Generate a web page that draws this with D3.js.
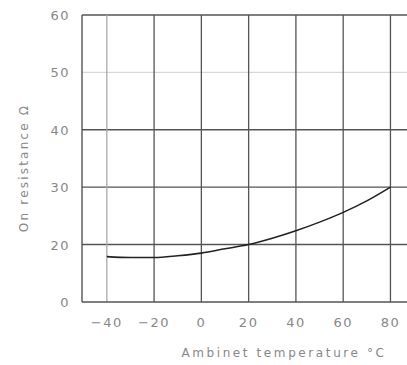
<!DOCTYPE html>
<html>
<head>
<meta charset="utf-8">
<script src="https://cdn.jsdelivr.net/npm/d3@7"></script>
<style>
  body { margin: 0; background: #fff; }
  text { font-family: "DejaVu Sans", sans-serif; fill: #888; }
</style>
</head>
<body>
<script>
// curve
var temps = [-40, -30, -20, -10, 0, 10, 20, 30, 40, 50, 60, 70, 80];
var resist = [15.8, 15.5, 15.5, 16.1, 17.0, 18.5, 20.0, 21.1, 22.4, 23.9, 25.6, 27.6, 30.0];

var xTicks = [-40, -20, 0, 20, 40, 60, 80];
var yTicks = [0, 20, 30, 40, 50, 60];

var width = 407, height = 365;

var svg = d3.select("body")
    .append("svg")
    .attr("width", width)
    .attr("height", height);

//x scale, plot runs off the right edge
var x = d3.scaleLinear()
    .domain([-50.5, 87])
    .range([82, 407]);

//y axis is broken: 0..20 takes one step like 10 does
var y = d3.scaleLinear()
    .domain([0, 20, 60])
    .range([302, 244.5, 15]);

//horizontal grid lines
svg.selectAll(".hgrid")
    .data(yTicks.filter(function(d){ return d > 0; }))
    .enter()
    .append("line")
    .attr("class", "hgrid")
    .attr("x1", x.range()[0])
    .attr("x2", width)
    .attr("y1", function(d){ return y(d); })
    .attr("y2", function(d){ return y(d); })
    .attr("stroke", function(d){ return d == 50 ? "#d8d8d8" : "#555"; })
    .attr("stroke-width", 1.3);

//vertical grid lines
svg.selectAll(".vgrid")
    .data(xTicks)
    .enter()
    .append("line")
    .attr("class", "vgrid")
    .attr("x1", function(d){ return x(d); })
    .attr("x2", function(d){ return x(d); })
    .attr("y1", y(60))
    .attr("y2", y(0))
    .attr("stroke", function(d){ return d == -40 ? "#aaa" : "#555"; })
    .attr("stroke-width", 1.3);

//axes lines
svg.append("line")
    .attr("x1", x.range()[0]).attr("x2", x.range()[0])
    .attr("y1", y(60)).attr("y2", y(0))
    .attr("stroke", "#555").attr("stroke-width", 1.4);
svg.append("line")
    .attr("x1", x.range()[0]).attr("x2", width)
    .attr("y1", y(0)).attr("y2", y(0))
    .attr("stroke", "#555").attr("stroke-width", 1.4);

//tick labels
svg.selectAll(".xlab")
    .data(xTicks)
    .enter()
    .append("text")
    .attr("class", "xlab")
    .attr("x", function(d){ return x(d); })
    .attr("y", 327)
    .attr("text-anchor", "middle")
    .style("font-size", "13px")
    .style("letter-spacing", "1.5px")
    .text(function(d){ return d < 0 ? "\u2212" + (-d) : d; });

svg.selectAll(".ylab")
    .data(yTicks)
    .enter()
    .append("text")
    .attr("class", "ylab")
    .attr("x", 70)
    .attr("y", function(d){ return y(d) + 5; })
    .attr("text-anchor", "end")
    .style("font-size", "13px")
    .style("letter-spacing", "1.5px")
    .text(function(d){ return d; });

//axis titles
svg.append("text")
    .attr("x", 284)
    .attr("y", 357)
    .attr("text-anchor", "middle")
    .style("font-size", "12px")
    .style("letter-spacing", "2.6px")
    .text("Ambinet temperature \u00b0C");

svg.append("text")
    .attr("transform", "translate(28,168) rotate(-90)")
    .attr("text-anchor", "middle")
    .style("font-size", "12px")
    .style("letter-spacing", "2.2px")
    .text("On resistance \u03a9");

//the curve
var line = d3.line()
    .x(function(d, i){ return x(temps[i]); })
    .y(function(d){ return y(d); })
    .curve(d3.curveMonotoneX);

svg.append("path")
    .datum(resist)
    .attr("fill", "none")
    .attr("stroke", "#222")
    .attr("stroke-width", 1.6)
    .attr("d", line);
</script>
</body>
</html>
